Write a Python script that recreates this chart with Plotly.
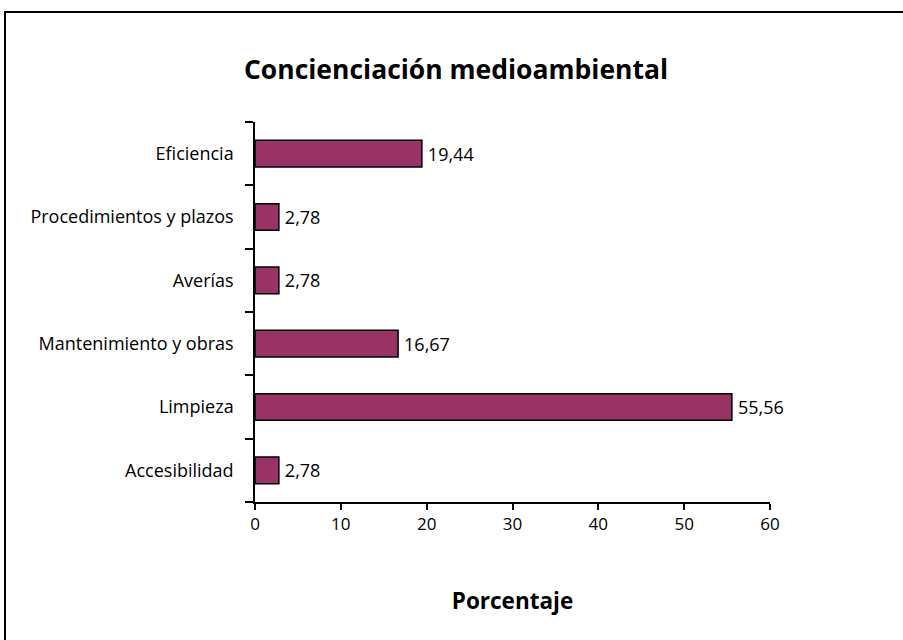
import plotly.graph_objects as go

categories = ["Accesibilidad", "Limpieza", "Mantenimiento y obras", "Averías",
              "Procedimientos y plazos", "Eficiencia"]
values = [2.78, 55.56, 16.67, 2.78, 2.78, 19.44]
x_ticks = [0, 10, 20, 30, 40, 50, 60]

labels = ["\u2009" + f"{v:.2f}".replace(".", ",") for v in values]

FONT = "'Open Sans', Lato, sans-serif"

fig = go.Figure(go.Bar(
    y=categories, x=values, orientation="h",
    marker=dict(color="#993366", line=dict(color="black", width=1.5)),
    width=0.42,
    text=labels, textposition="outside",
    textfont=dict(family=FONT, size=18, color="black"),
    cliponaxis=False,
))

L, R, T, B = 255, 133, 122, 138
W, H = 903, 640
pw, ph = W - L - R, H - T - B

def px_x(p):
    return (p - L) / pw

def px_y(p):
    return (H - B - p) / ph

fig.update_layout(
    width=W, height=H,
    margin=dict(l=L, r=R, t=T, b=B),
    paper_bgcolor="white", plot_bgcolor="white",
    showlegend=False,
    font=dict(family=FONT, size=18, color="black"),
    title=dict(text="<b>Concienciación medioambiental</b>",
               x=456 / W, xanchor="center",
               y=1 - 70 / H, yanchor="middle",
               font=dict(family=FONT, size=26.5, color="black")),
    xaxis=dict(range=[0, 60], tickvals=x_ticks, showgrid=False, zeroline=False,
               showline=True, linecolor="black", linewidth=1.5,
               ticks="outside", ticklen=6, tickwidth=1.5, tickcolor="black",
               tickfont=dict(family=FONT, size=17),
               title=dict(text="<b>Porcentaje</b>", standoff=59,
                          font=dict(family=FONT, size=22.5))),
    yaxis=dict(showgrid=False, zeroline=False, showline=True, linecolor="black",
               linewidth=1.5, ticks="outside", ticklen=8, tickwidth=1.5,
               tickcolor="black", tickson="boundaries",
               tickfont=dict(family=FONT, size=18), ticklabelstandoff=16),
    bargap=0.58,
)

fig.add_shape(type="rect", xref="paper", yref="paper",
              x0=px_x(5), x1=px_x(1000), y0=px_y(700), y1=px_y(12),
              line=dict(color="black", width=2), fillcolor="rgba(0,0,0,0)",
              layer="below")

fig.write_html("out.html", config={"displayModeBar": False},
               post_script="document.body.style.margin='0';document.body.style.overflow='hidden';")
